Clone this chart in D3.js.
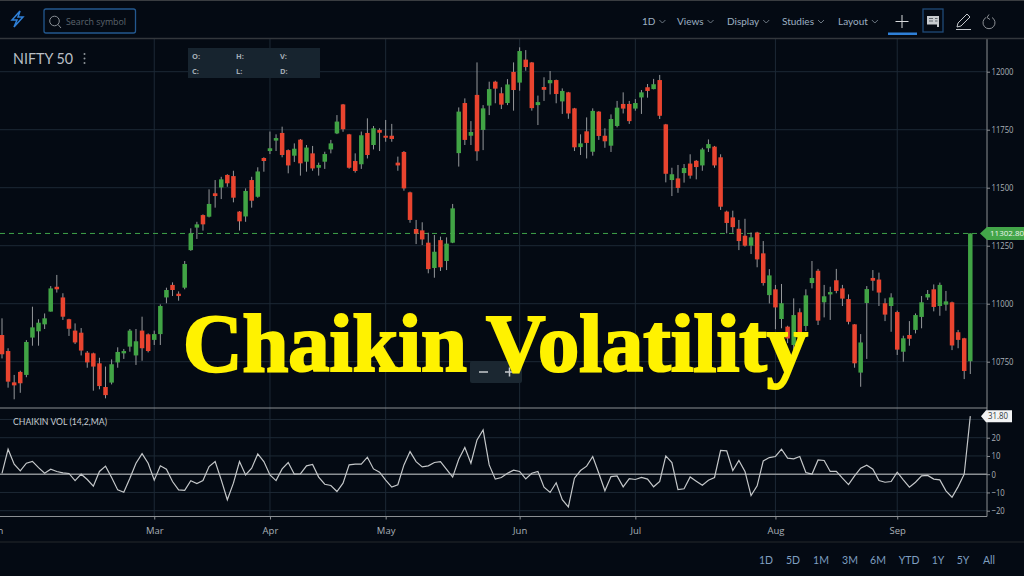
<!DOCTYPE html>
<html>
<head>
<meta charset="utf-8">
<script src="https://cdn.jsdelivr.net/npm/d3@7"></script>
<style>
  html, body { margin: 0; padding: 0; background: #040a13; overflow: hidden; }
  text { font-family: "Open Sans", sans-serif; }
</style>
</head>
<body>
<div class="canvas"></div>
<script>
const opens = [
  10865,10796,10661,10706,10693,10854,10881,10911,10966,11073,
  11027,10933,10884,10875,10789,10786,10743,10641,10660,10747,
  10786,10815,10777,10884,10868,10844,10869,11027,11081,11043,
  11069,11231,11328,11382,11375,11476,11501,11555,11550,11397,
  11376,11533,11461,11628,11658,11703,11736,11662,11638,11707,
  11612,11648,11586,11612,11665,11734,11859,11730,11615,11601,
  11736,11684,11749,11724,11724,11608,11654,11480,11322,11316,
  11263,11154,11274,11184,11263,11649,11865,11724,11900,11749,
  11854,11957,11907,11865,11999,11953,12052,12040,11856,11934,
  11950,11964,11872,11911,11842,11675,11743,11655,11828,11724,
  11681,11766,11861,11861,11841,11889,11933,11925,11964,11773,
  11533,11540,11563,11604,11616,11596,11670,11677,11631,11397,
  11372,11323,11293,11250,11307,11217,11037,11062,10934,10901,
  10822,10963,10904,11089,11142,11006,11040,11101,11066,11020,
  10911,10703,11003,11111,11104,11002,10990,10964,10793,10865,
  10887,10943,11027,11062,10990,10996,11006,10877,10851,10752
];
const highs = [
  10937,10808,10693,10711,10843,10987,10933,10958,11076,11124,
  11045,10935,10915,10895,10796,10789,10767,10729,10760,10812,
  10805,10891,10891,10944,10872,10884,10997,11069,11092,11053,
  11184,11325,11353,11385,11493,11533,11547,11558,11573,11399,
  11497,11547,11588,11631,11742,11730,11763,11665,11691,11710,
  11684,11680,11608,11655,11706,11813,11861,11732,11648,11742,
  11799,11766,11756,11792,11775,11634,11658,11483,11361,11351,
  11306,11296,11289,11286,11430,11846,11885,11787,12040,11856,
  11957,11961,11933,11968,12040,12105,12093,12042,11897,11976,
  12003,11966,11928,11913,11844,11730,11803,11842,11830,11756,
  11816,11874,11911,11874,11882,11921,11947,11969,11986,11775,
  11586,11598,11602,11644,11619,11672,11708,11680,11644,11401,
  11401,11361,11366,11307,11310,11270,11149,11081,11085,10905,
  11023,10980,11062,11184,11150,11081,11073,11150,11081,11040,
  10912,10869,11076,11145,11134,11023,11045,10970,10862,10925,
  10958,11033,11059,11083,11091,11055,11009,10887,10853,11303
];
const lows = [
  10764,10638,10588,10616,10683,10819,10819,10891,10966,11048,
  10930,10861,10826,10777,10724,10625,10631,10592,10652,10724,
  10762,10793,10736,10754,10790,10822,10822,11002,11033,11013,
  11062,11228,11279,11315,11372,11414,11451,11504,11437,11315,
  11353,11414,11457,11569,11645,11658,11631,11562,11611,11552,
  11569,11573,11552,11581,11648,11731,11741,11582,11565,11581,
  11626,11665,11658,11698,11698,11573,11487,11349,11257,11253,
  11131,11112,11141,11145,11261,11591,11684,11684,11616,11662,
  11813,11864,11839,11856,11832,11918,12004,11832,11770,11874,
  11902,11864,11818,11797,11658,11641,11626,11638,11706,11672,
  11654,11760,11820,11775,11832,11818,11888,11924,11796,11523,
  11464,11478,11522,11539,11536,11573,11654,11586,11404,11303,
  11306,11231,11246,11214,11157,11078,11001,10890,10894,10830,
  10800,10820,10882,11066,10908,10941,10930,11045,10990,10911,
  10724,10642,10762,11056,10990,10925,10879,10779,10750,10819,
  10872,10894,11016,10967,10948,10970,10800,10808,10675,10697
];
const closes = [
  10782,10664,10648,10657,10835,10898,10918,10937,11066,11062,
  10944,10892,10833,10798,10747,10729,10645,10606,10739,10792,
  10796,10884,10838,10808,10796,10869,10990,11059,11059,11033,
  11171,11303,11342,11342,11430,11464,11536,11519,11457,11355,
  11486,11444,11570,11615,11670,11714,11641,11596,11668,11605,
  11673,11583,11598,11645,11691,11785,11752,11586,11572,11726,
  11641,11756,11737,11716,11710,11596,11497,11361,11302,11277,
  11149,11224,11157,11259,11411,11828,11706,11740,11657,11842,
  11925,11927,11858,11945,11921,12089,12020,11843,11869,11922,
  11964,11904,11917,11820,11674,11691,11693,11831,11723,11700,
  11796,11845,11841,11787,11865,11911,11917,11946,11810,11560,
  11558,11499,11585,11552,11589,11665,11688,11596,11418,11348,
  11330,11270,11250,11286,11191,11089,11122,10984,11002,10850,
  10951,10858,11036,11111,10927,11032,11050,11055,11022,10922,
  10743,10833,11063,11099,11048,10953,11027,10802,10851,10849,
  10951,11006,11042,10986,11081,11010,10820,10844,10710,11303
];
const chaikin = [
  0.5,13.7,5.5,1.8,6,7,3.6,0.5,2.7,1.5,
  0.7,0.4,-3.5,0,-2.9,-6.6,1.5,4.4,-1.8,-8.6,
  -9.9,-2.2,6,11.3,6,-3.3,4.6,2.7,-4,-8.6,
  -8.8,-3.6,-5.1,-3.5,4.2,6.9,-3.1,-14,-4.9,6.9,
  -0.4,3.3,11.1,6.9,-0.4,-3.5,2.9,6.4,0,0.2,
  4.6,5.3,-1.6,-5.5,-6.2,-9.5,-4.9,5.1,5.5,5.5,
  9.3,2.9,1.1,-3.3,-7.1,-5.8,5.1,12.4,6.9,4,
  4.6,6.4,6.9,2.7,-1.6,8.2,14.6,6,18.8,24.3,
  5.1,-2.7,-1.8,0.5,2.2,1.5,-2.6,0.5,1.5,-7.1,
  -10,-4.7,-14,-17.9,-2.2,2,4.4,9.7,0.5,-9.1,
  -1.3,-0.9,-6.9,-2.4,-2.9,-1.8,-2.7,-6.9,-4,10,
  6.4,-8.4,-8,-1.5,-3.8,-6,-3.3,-1.8,13,12.8,
  2,7.5,1.5,-11.7,-6.4,7.3,9.1,9.7,13.7,8.8,
  8.4,9.7,0.9,0,7.8,7.5,1.5,1.5,-2.2,-5.7,
  -0.9,3.3,4.9,2.7,-3.5,-4.4,-4,1.1,-3.1,-7.1,
  -4.4,-0.9,-0.7,-2.7,-3.1,-9.1,-12.6,-6.8,0,31.8
];
const priceTicks = [12000, 11750, 11500, 11250, 11000, 10750];
const chaikinTicks = [20, 10, 0, -10, -20];
const chaikinGrid = [30, 20, 10, -10, -20];
const monthLabels = ["Jan", "Mar", "Apr", "May", "Jun", "Jul", "Aug", "Sep"];
const monthIndex = [-1, 25, 44, 63, 85, 104, 127, 147];
const lastPrice = 11302.80;
const lastChaikin = 31.80;
const menuLabels = ["1D", "Views", "Display", "Studies", "Layout"];
const menuX = [642, 677, 727, 782, 838];
const rangeLabels = ["1D", "5D", "1M", "3M", "6M", "YTD", "1Y", "5Y", "All"];
const rangeX = [766, 793, 821, 850, 878, 909, 938, 963, 989];

const svg = d3.select(".canvas").append("svg")
  .attr("width", 1024).attr("height", 576)
  .style("display", "block");

svg.append("rect").attr("width", 1024).attr("height", 576).attr("fill", "#040a13");

const x = d3.scaleLinear().domain([0, 159]).range([2, 970.3]);
const y = d3.scaleLinear().domain([10750, 12000]).range([361.7, 71.7]);
const yc = d3.scaleLinear().domain([-20, 20]).range([510.7, 437.7]);

const RIGHT = 987, PRICE_TOP = 39, PRICE_BOTTOM = 408, OSC_BOTTOM = 516.5;
const GRID = "#1d2935", AXIS = "#8b8f93", LABEL = "#aab1b8";
const UP = "#41a445", DOWN = "#e9442f", WICK = "#95989b";

// grid
const gridMonths = monthIndex.filter((d) => d >= 0);
svg.append("g").selectAll("line").data(gridMonths).join("line")
  .attr("x1", (d) => x(d)).attr("x2", (d) => x(d))
  .attr("y1", PRICE_TOP).attr("y2", OSC_BOTTOM)
  .attr("stroke", GRID).attr("stroke-width", 1);
svg.append("g").selectAll("line").data(priceTicks).join("line")
  .attr("x1", 0).attr("x2", RIGHT)
  .attr("y1", (d) => y(d)).attr("y2", (d) => y(d))
  .attr("stroke", GRID).attr("stroke-width", 1);
svg.append("g").selectAll("line").data(chaikinGrid).join("line")
  .attr("x1", 0).attr("x2", RIGHT)
  .attr("y1", (d) => yc(d)).attr("y2", (d) => yc(d))
  .attr("stroke", GRID).attr("stroke-width", 1);

// last price dashed line
svg.append("line")
  .attr("x1", 0).attr("x2", RIGHT)
  .attr("y1", y(lastPrice)).attr("y2", y(lastPrice))
  .attr("stroke", "#3fa34a").attr("stroke-width", 1).attr("stroke-dasharray", "5,4");

// candles
const candles = svg.append("g").selectAll("g").data(opens).join("g");
candles.append("line")
  .attr("x1", (d, i) => x(i)).attr("x2", (d, i) => x(i))
  .attr("y1", (d, i) => y(highs[i])).attr("y2", (d, i) => y(lows[i]))
  .attr("stroke", WICK).attr("stroke-width", 1);
candles.append("rect")
  .attr("x", (d, i) => x(i) - 2.25)
  .attr("width", 4.5)
  .attr("y", (d, i) => y(Math.max(opens[i], closes[i])))
  .attr("height", (d, i) => Math.max(2, Math.abs(y(opens[i]) - y(closes[i]))))
  .attr("fill", (d, i) => (closes[i] >= opens[i] ? UP : DOWN));

// zero line and pane borders
svg.append("line").attr("x1", 0).attr("x2", RIGHT)
  .attr("y1", yc(0)).attr("y2", yc(0))
  .attr("stroke", AXIS).attr("stroke-width", 1.5);
svg.append("line").attr("x1", 0).attr("x2", RIGHT)
  .attr("y1", PRICE_BOTTOM).attr("y2", PRICE_BOTTOM)
  .attr("stroke", AXIS).attr("stroke-width", 1);
svg.append("line").attr("x1", 0).attr("x2", RIGHT)
  .attr("y1", OSC_BOTTOM).attr("y2", OSC_BOTTOM)
  .attr("stroke", AXIS).attr("stroke-width", 1);

// chaikin line
const line = d3.line().x((d, i) => x(i)).y((d) => yc(d));
svg.append("path").datum(chaikin)
  .attr("d", line)
  .attr("fill", "none").attr("stroke", "#c4c7c9").attr("stroke-width", 1.2);

// axes
const priceAxis = svg.append("g")
  .attr("transform", `translate(${RIGHT},0)`)
  .call(d3.axisRight(y).tickValues(priceTicks).tickSize(3).tickPadding(1.5).tickFormat(d3.format("d")));
const chaikinAxis = svg.append("g")
  .attr("transform", `translate(${RIGHT},0)`)
  .call(d3.axisRight(yc).tickValues(chaikinTicks).tickSize(3).tickPadding(1.5).tickFormat(d3.format("d")));
const monthAxis = svg.append("g")
  .attr("transform", `translate(0,${OSC_BOTTOM})`)
  .call(d3.axisBottom(x).tickValues(monthIndex).tickSize(3).tickPadding(8)
    .tickFormat((d, i) => monthLabels[i]));
[priceAxis, chaikinAxis, monthAxis].forEach((a) => {
  a.selectAll(".domain").remove();
  a.selectAll("line").attr("stroke", AXIS);
  a.selectAll("text").attr("fill", LABEL).style("font-size", "9.5px").style("font-family", "Open Sans");
});
[priceAxis, chaikinAxis].forEach((a) => {
  a.selectAll("text")
    .attr("textLength", function () { return this.textContent.length * 4.4; })
    .attr("lengthAdjust", "spacingAndGlyphs");
});
svg.append("line").attr("x1", RIGHT).attr("x2", RIGHT)
  .attr("y1", PRICE_TOP).attr("y2", OSC_BOTTOM)
  .attr("stroke", AXIS).attr("stroke-width", 1);

// value tags
svg.append("path")
  .attr("d", `M980,${y(lastPrice)} L987,${y(lastPrice) - 6.5} L1024,${y(lastPrice) - 6.5} L1024,${y(lastPrice) + 6.5} L987,${y(lastPrice) + 6.5} Z`)
  .attr("fill", "#43a549");
svg.append("text").attr("x", 990).attr("y", y(lastPrice) + 3)
  .attr("fill", "#eef5ee").style("font-size", "8px").text(lastPrice.toFixed(2));
svg.append("path")
  .attr("d", `M981,${yc(lastChaikin)} L986,${yc(lastChaikin) - 6} L1012,${yc(lastChaikin) - 6} L1012,${yc(lastChaikin) + 6} L986,${yc(lastChaikin) + 6} Z`)
  .attr("fill", "#f2f3f4");
svg.append("text").attr("x", 988).attr("y", yc(lastChaikin) + 3.2)
  .attr("textLength", 20).attr("lengthAdjust", "spacingAndGlyphs")
  .attr("fill", "#333a40").style("font-size", "8.5px").text(lastChaikin.toFixed(2));

// chart header
svg.append("text").attr("x", 13).attr("y", 64)
  .attr("textLength", 60).attr("lengthAdjust", "spacingAndGlyphs")
  .attr("fill", "#b9bfc5").style("font-size", "15.5px").style("font-family", "Lato").text("NIFTY 50");
svg.append("g").selectAll("circle").data([54, 58.5, 63]).join("circle")
  .attr("cx", 84.5).attr("cy", (d) => d).attr("r", 1).attr("fill", "#8f959b");
svg.append("rect").attr("x", 188).attr("y", 48).attr("width", 132).attr("height", 30).attr("fill", "#17242f");
const ohlcText = [["O:", 192, 59], ["H:", 236, 59], ["V:", 280, 59], ["C:", 192, 74], ["L:", 236, 74], ["D:", 280, 74]];
svg.append("g").selectAll("text").data(ohlcText).join("text")
  .attr("x", (d) => d[1]).attr("y", (d) => d[2])
  .attr("fill", "#a4acb4").style("font-size", "7.5px").style("font-weight", 700).text((d) => d[0]);
svg.append("text").attr("x", 13).attr("y", 425)
  .attr("textLength", 94).attr("lengthAdjust", "spacingAndGlyphs")
  .attr("fill", "#c5cbd0").style("font-size", "9.5px").style("font-family", "Lato").text("CHAIKIN VOL (14,2,MA)");

// top bar
svg.append("line").attr("x1", 0).attr("x2", 1024).attr("y1", 0.5).attr("y2", 0.5).attr("stroke", "#3a3d41");
svg.append("line").attr("x1", 0).attr("x2", 1024).attr("y1", 38.5).attr("y2", 38.5).attr("stroke", "#33373c").attr("stroke-width", 1.5);
svg.append("path").attr("d", "M20,11 L12,20 L17,20 L14,27 L23,17 L18,17 Z")
  .attr("fill", "none").attr("stroke", "#2f80d8").attr("stroke-width", 1.5);
svg.append("rect").attr("x", 44).attr("y", 9).attr("width", 91.5).attr("height", 24).attr("rx", 2)
  .attr("fill", "none").attr("stroke", "#23588f").attr("stroke-width", 1.3);
svg.append("circle").attr("cx", 54.5).attr("cy", 21).attr("r", 4.8).attr("fill", "none").attr("stroke", "#8a9096").attr("stroke-width", 1);
svg.append("line").attr("x1", 58).attr("y1", 24.5).attr("x2", 61).attr("y2", 28).attr("stroke", "#8a9096");
svg.append("text").attr("x", 66).attr("y", 25)
  .attr("textLength", 60).attr("lengthAdjust", "spacingAndGlyphs")
  .attr("fill", "#5d656d").style("font-size", "9.5px").text("Search symbol");

const menu = svg.append("g").selectAll("g").data(menuLabels).join("g")
  .attr("transform", (d, i) => `translate(${menuX[i]},25)`);
menu.append("text").attr("fill", "#9db0c2").style("font-size", "10px").style("font-family", "Lato").text((d) => d);
menu.each(function () {
  const w = this.querySelector("text").getComputedTextLength();
  d3.select(this).append("path")
    .attr("d", `M${w + 4},-5 L${w + 7},-2 L${w + 10},-5`)
    .attr("fill", "none").attr("stroke", "#6d7883");
});

svg.append("path").attr("d", "M902,15 V28 M895.5,21.5 H908.5").attr("stroke", "#d8dadc").attr("stroke-width", 1);
svg.append("rect").attr("x", 888).attr("y", 32.5).attr("width", 29).attr("height", 2.5).attr("fill", "#2f80d8");
svg.append("rect").attr("x", 923).attr("y", 9).attr("width", 20).attr("height", 23)
  .attr("fill", "none").attr("stroke", "#1f4a78").attr("stroke-width", 1.3);
svg.append("path").attr("d", "M927,16 H939 V27 H937 V24.5 H927 Z").attr("fill", "#c8ccd0");
svg.append("path").attr("d", "M929,18.5 H933 M929,21 H933 M935,18.5 H937.5 M935,21 H937.5").attr("stroke", "#5f666c").attr("stroke-width", 1);
svg.append("path").attr("d", "M957,27 L958,23 L967,14 L970,17 L961,26 Z M956,29.5 H971")
  .attr("fill", "none").attr("stroke", "#c4c8cc").attr("stroke-width", 1);
svg.append("path").attr("d", "M986,17.5 A6,6 0 1 0 992,17.5 M989,14.5 L987,17.5 L990,19.5")
  .attr("fill", "none").attr("stroke", "#8d9196").attr("stroke-width", 1);

// bottom bar
svg.append("line").attr("x1", 0).attr("x2", 1024).attr("y1", 542).attr("y2", 542).attr("stroke", "#24282d");
svg.append("g").selectAll("text").data(rangeLabels).join("text")
  .attr("x", (d, i) => rangeX[i]).attr("y", 564).attr("text-anchor", "middle")
  .attr("fill", "#7f9fc0").style("font-size", "10.5px").style("font-family", "Lato").text((d) => d);

// zoom buttons
svg.append("rect").attr("x", 470).attr("y", 361).attr("width", 52).attr("height", 22).attr("rx", 2).attr("fill", "#1b2731");
svg.append("path").attr("d", "M479,372 H488 M505,372 H514 M509.5,367.5 V376.5").attr("stroke", "#c6cacd").attr("stroke-width", 1.5);

// title
svg.append("text").attr("x", 183).attr("y", 371)
  .attr("textLength", 625).attr("lengthAdjust", "spacingAndGlyphs")
  .attr("fill", "#fff200").attr("stroke", "#fff200").attr("stroke-width", 2.2)
  .style("font-family", "Liberation Serif").style("font-weight", 700).style("font-size", "82px")
  .text("Chaikin Volatility");
</script>
</body>
</html>
